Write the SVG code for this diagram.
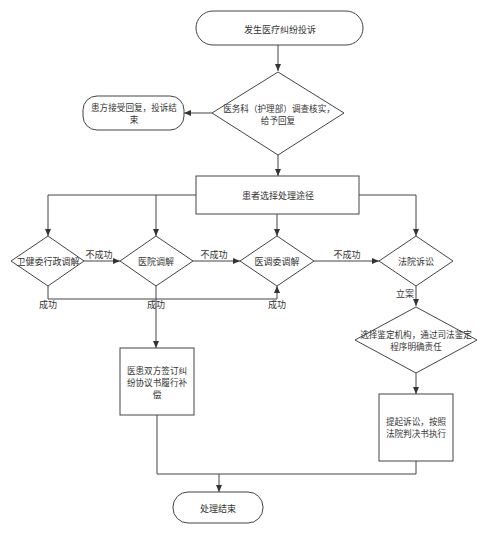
<svg xmlns="http://www.w3.org/2000/svg" width="489" height="535" viewBox="0 0 489 535">
<style>
.s{fill:#fff;stroke:#444;stroke-width:1}
.c{fill:none;stroke:#444;stroke-width:1}
text{font-family:"Noto Sans CJK SC","Liberation Sans",sans-serif;font-size:9px;fill:#333;text-anchor:middle;dominant-baseline:central}
.m{font-size:8.6px}
</style>
<defs>
<marker id="a" markerWidth="8" markerHeight="8" refX="7" refY="4" orient="auto" markerUnits="userSpaceOnUse">
<path d="M0,1 L7,4 L0,7 Z" fill="#333"/>
</marker>
</defs>
<g id="connectors">
<path class="c" d="M278,45 V71" marker-end="url(#a)"/>
<path class="c" d="M212,113 H184" marker-end="url(#a)"/>
<path class="c" d="M278,155 V176" marker-end="url(#a)"/>
<path class="c" d="M196,195 H48 V236" marker-end="url(#a)"/>
<path class="c" d="M156,195 V236" marker-end="url(#a)"/>
<path class="c" d="M277,214 V236" marker-end="url(#a)"/>
<path class="c" d="M359,195 H416 V236" marker-end="url(#a)"/>
<path class="c" d="M84,261 H120" marker-end="url(#a)"/>
<path class="c" d="M193,261 H240" marker-end="url(#a)"/>
<path class="c" d="M314,261 H379" marker-end="url(#a)"/>
<path class="c" d="M48,286 V299 H277 V286" marker-end="url(#a)"/>
<path class="c" d="M156,286 V348" marker-end="url(#a)"/>
<path class="c" d="M416,286 V306" marker-end="url(#a)"/>
<path class="c" d="M416,373 V394" marker-end="url(#a)"/>
<path class="c" d="M157,415 V474 H416 V461"/>
<path class="c" d="M219,474 V492" marker-end="url(#a)"/>
<text x="99" y="254">不成功</text>
<text x="214" y="254">不成功</text>
<text x="347" y="254">不成功</text>
<text x="48" y="304">成功</text>
<text x="156" y="304">成功</text>
<text x="277" y="304">成功</text>
<text x="405" y="293">立案</text>
</g>
<g id="start">
<rect class="s" x="196" y="11" width="167" height="34" rx="17"/>
<text x="280" y="29">发生医疗纠纷投诉</text>
</g>
<g id="investigate">
<path class="s" d="M278,72 L344,113 L278,155 L212,113 Z"/>
<text class="m" x="279" y="108">医务科（护理部）调查核实，</text>
<text class="m" x="278" y="120">给予回复</text>
</g>
<g id="accept">
<rect class="s" x="83" y="96" width="101" height="34" rx="14"/>
<text class="m" x="134" y="107">患方接受回复，投诉结</text>
<text class="m" x="134" y="119">束</text>
</g>
<g id="choose">
<rect class="s" x="196" y="176" width="163" height="38"/>
<text x="278" y="195">患者选择处理途径</text>
</g>
<g id="d1">
<path class="s" d="M48,236 L84,261 L48,286 L11,261 Z"/>
<text x="48" y="261">卫健委行政调解</text>
</g>
<g id="d2">
<path class="s" d="M156,236 L193,261 L156,286 L120,261 Z"/>
<text x="156" y="261">医院调解</text>
</g>
<g id="d3">
<path class="s" d="M277,236 L314,261 L277,286 L240,261 Z"/>
<text x="277" y="261">医调委调解</text>
</g>
<g id="d4">
<path class="s" d="M416,236 L453,261 L416,286 L379,261 Z"/>
<text x="416" y="261">法院诉讼</text>
</g>
<g id="agreement">
<rect class="s" x="120" y="348" width="74" height="67"/>
<text class="m" x="157" y="370">医患双方签订纠</text>
<text class="m" x="157" y="382">纷协议书履行补</text>
<text class="m" x="157" y="394">偿</text>
</g>
<g id="appraisal">
<path class="s" d="M416,307 L477,340 L416,373 L355,340 Z"/>
<text class="m" x="416" y="334">选择鉴定机构，通过司法鉴定</text>
<text class="m" x="416" y="346">程序明确责任</text>
</g>
<g id="lawsuit">
<rect class="s" x="379" y="394" width="74" height="67"/>
<text class="m" x="416" y="421">提起诉讼，按照</text>
<text class="m" x="416" y="433">法院判决书执行</text>
</g>
<g id="end">
<rect class="s" x="173" y="492" width="90" height="31" rx="15"/>
<text x="218" y="508">处理结束</text>
</g>
</svg>
